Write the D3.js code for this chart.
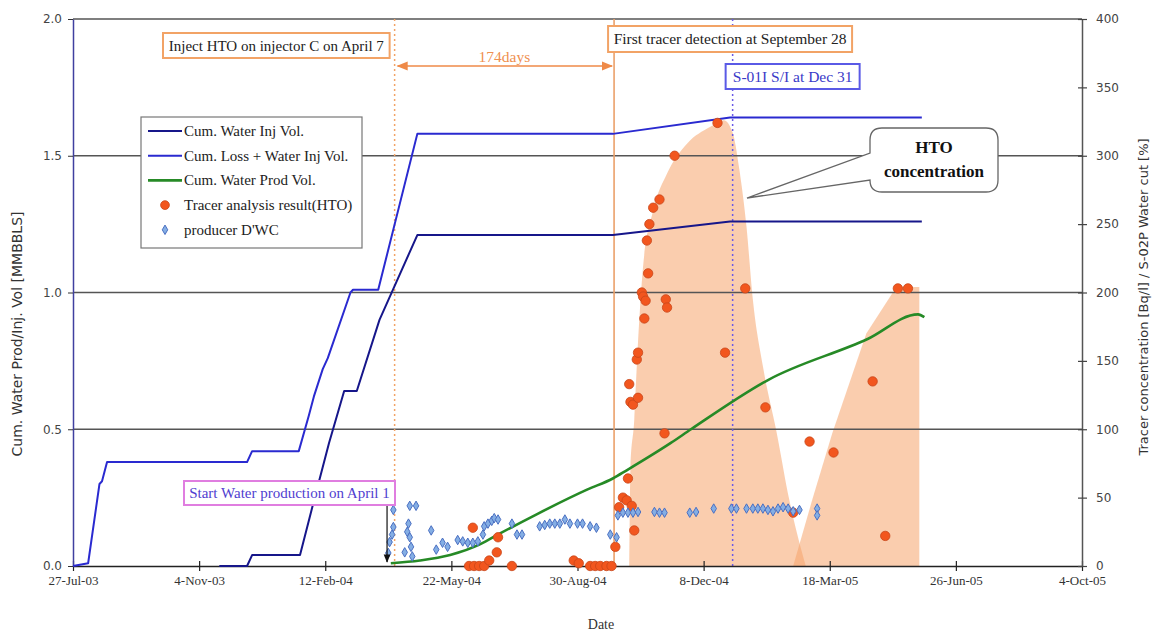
<!DOCTYPE html>
<html>
<head>
<meta charset="utf-8">
<script src="https://cdn.jsdelivr.net/npm/d3@7"></script>
<style>
  body { margin: 0; background: #fff; }
  svg { display: block; }
</style>
</head>
<body>
<svg id="chart" width="1157" height="635"></svg>
<script>
// ---- data ----
const xTicks = ["2003-07-27", "2003-11-04", "2004-02-12", "2004-05-22", "2004-08-30",
                "2004-12-08", "2005-03-18", "2005-06-26", "2005-10-04"];
const leftTicks = [0, 0.5, 1.0, 1.5, 2.0];
const rightTicks = [0, 50, 100, 150, 200, 250, 300, 350, 400];

// Cum. Water Inj Vol. [MMBBLS]
const cumInj = [
  ["2003-11-20", 0], ["2003-12-12", 0.0], ["2003-12-16", 0.04], ["2004-01-23", 0.04],
  ["2004-02-02", 0.22], ["2004-02-15", 0.45], ["2004-02-27", 0.64], ["2004-03-08", 0.64],
  ["2004-03-26", 0.9], ["2004-04-25", 1.21], ["2004-09-27", 1.21], ["2004-12-29", 1.26],
  ["2005-05-30", 1.26]
];
// Cum. Loss + Water Inj Vol. [MMBBLS]
const cumLossInj = [
  ["2003-07-27", 0], ["2003-08-08", 0.01], ["2003-08-17", 0.30], ["2003-08-19", 0.31],
  ["2003-08-23", 0.38], ["2003-12-12", 0.38], ["2003-12-16", 0.42], ["2004-01-22", 0.42],
  ["2004-01-30", 0.55], ["2004-02-03", 0.62], ["2004-02-10", 0.72], ["2004-02-14", 0.76],
  ["2004-03-03", 1.0], ["2004-03-05", 1.01], ["2004-03-25", 1.01], ["2004-04-25", 1.58],
  ["2004-09-27", 1.58], ["2004-12-29", 1.64], ["2005-05-30", 1.64]
];
// Cum. Water Prod Vol. [MMBBLS]
const cumProd = [
  ["2004-04-04", 0.01], ["2004-04-27", 0.02], ["2004-05-21", 0.04], ["2004-06-14", 0.08],
  ["2004-06-30", 0.12], ["2004-07-29", 0.19], ["2004-09-07", 0.28], ["2004-09-27", 0.32],
  ["2004-10-08", 0.35], ["2004-11-12", 0.45], ["2004-11-28", 0.50], ["2005-01-28", 0.68],
  ["2005-04-17", 0.83], ["2005-05-27", 0.92], ["2005-06-01", 0.91]
];
// Tracer analysis result (HTO) [Bq/l]
const tracerHTO = [
  ["2004-06-05", 0], ["2004-06-09", 0], ["2004-06-13", 0], ["2004-06-17", 0], ["2004-06-21", 4],
  ["2004-06-27", 10], ["2004-06-08", 28], ["2004-06-28", 21], ["2004-07-09", 0],
  ["2004-08-27", 4], ["2004-08-31", 2], ["2004-09-09", 0], ["2004-09-13", 0], ["2004-09-17", 0],
  ["2004-09-22", 0], ["2004-09-26", 0], ["2004-09-29", 14], ["2004-10-02", 43], ["2004-10-05", 50],
  ["2004-10-08", 48], ["2004-10-12", 44], ["2004-10-14", 26], ["2004-10-09", 64], ["2004-10-11", 120],
  ["2004-10-13", 118], ["2004-10-17", 123], ["2004-10-10", 133], ["2004-10-16", 151], ["2004-10-17", 156],
  ["2004-10-22", 181], ["2004-10-20", 200], ["2004-10-21", 197], ["2004-10-23", 194], ["2004-10-25", 214],
  ["2004-10-24", 238], ["2004-10-26", 250], ["2004-10-29", 262], ["2004-11-03", 268], ["2004-11-15", 300],
  ["2004-12-19", 324], ["2004-11-08", 195], ["2004-11-09", 189], ["2004-11-07", 97], ["2004-12-25", 156],
  ["2005-01-10", 203], ["2005-01-26", 116], ["2005-03-02", 91], ["2005-03-21", 83], ["2005-02-17", 39],
  ["2005-04-21", 135], ["2005-05-11", 203], ["2005-05-19", 203], ["2005-05-01", 22]
];
// producer D'WC [%]
const producerWC = [
  ["2004-04-02", 9.5], ["2004-04-03", 17.5], ["2004-04-05", 23], ["2004-04-06", 28.5], ["2004-04-06", 41],
  ["2004-04-15", 10], ["2004-04-17", 25], ["2004-04-18", 31], ["2004-04-19", 44], ["2004-04-19", 21],
  ["2004-04-20", 14], ["2004-04-21", 7], ["2004-04-24", 44], ["2004-05-06", 26], ["2004-05-10", 12],
  ["2004-05-15", 17], ["2004-05-19", 14], ["2004-05-27", 19], ["2004-05-31", 18], ["2004-06-04", 17],
  ["2004-06-08", 17], ["2004-06-12", 18], ["2004-06-16", 23], ["2004-06-17", 29], ["2004-06-20", 31],
  ["2004-06-23", 33], ["2004-06-25", 35], ["2004-06-28", 34], ["2004-07-09", 31], ["2004-07-13", 23],
  ["2004-07-17", 23], ["2004-07-31", 29], ["2004-08-04", 30], ["2004-08-08", 31], ["2004-08-12", 31],
  ["2004-08-16", 31], ["2004-08-20", 34], ["2004-08-24", 31], ["2004-08-30", 31], ["2004-09-03", 31],
  ["2004-09-09", 29], ["2004-09-14", 28], ["2004-09-25", 23], ["2004-09-30", 21], ["2004-10-01", 37],
  ["2004-10-05", 39], ["2004-10-09", 39], ["2004-10-13", 39], ["2004-10-17", 39.5], ["2004-10-30", 39.5],
  ["2004-11-03", 39], ["2004-11-07", 39], ["2004-11-27", 39], ["2004-12-02", 39.5], ["2004-12-16", 42],
  ["2004-12-30", 42], ["2005-01-03", 42], ["2005-01-11", 42], ["2005-01-16", 42], ["2005-01-20", 42],
  ["2005-01-24", 42], ["2005-01-28", 41], ["2005-02-01", 40], ["2005-02-05", 42], ["2005-02-09", 43],
  ["2005-02-13", 42], ["2005-02-17", 40], ["2005-02-22", 41], ["2005-03-08", 42], ["2005-03-08", 37]
];
// HTO concentration envelope (two humps) [Bq/l]
const htoHump1 = [
  ["2004-10-10", 0], ["2004-10-11", 72], ["2004-10-14", 107], ["2004-10-16", 146], ["2004-10-21", 219],
  ["2004-10-29", 260], ["2004-11-09", 287], ["2004-11-25", 309], ["2004-12-13", 321], ["2004-12-24", 326],
  ["2004-12-31", 317], ["2005-01-05", 292], ["2005-01-11", 248], ["2005-01-16", 195], ["2005-01-24", 146],
  ["2005-02-04", 97], ["2005-02-14", 48], ["2005-02-27", 0]
];
const htoHump2 = [
  ["2005-02-17", 0], ["2005-03-04", 48], ["2005-03-20", 97], ["2005-04-16", 170], ["2005-05-07", 200],
  ["2005-05-10", 204], ["2005-05-28", 204]
];
// event dates
const injectDate = "2004-04-07";
const startProdDate = "2004-04-01";
const firstDetectDate = "2004-09-28";
const shutInDate = "2004-12-31";

// ---- setup ----
const parse = d3.timeParse("%Y-%m-%d");
const svg = d3.select("#chart");
const plotLeft = 73, plotRight = 1082, plotTop = 19, plotBottom = 566;

const x = d3.scaleTime().domain([parse(xTicks[0]), parse(xTicks[xTicks.length - 1])]).range([plotLeft, plotRight]);
const yL = d3.scaleLinear().domain([0, 2]).range([plotBottom, plotTop]);
const yR = d3.scaleLinear().domain([0, 400]).range([plotBottom, plotTop]);

const serif = "'Liberation Serif', 'DejaVu Serif', serif";
const sans = "'DejaVu Sans', Verdana, sans-serif";

// HTO envelope
const hump = (data, curve) => d3.area()
  .x(d => x(parse(d[0])))
  .y0(yR(0))
  .y1(d => yR(d[1]))
  .curve(curve)(data);

svg.append("path").attr("d", hump(htoHump1, d3.curveMonotoneX))
  .attr("fill", "#f5a46c").attr("fill-opacity", 0.55);
svg.append("path").attr("d", hump(htoHump2, d3.curveLinear))
  .attr("fill", "#f5a46c").attr("fill-opacity", 0.55);

// gridlines
svg.append("g").selectAll("line")
  .data(leftTicks.filter(d => d > 0))
  .join("line")
  .attr("x1", plotLeft).attr("x2", plotRight)
  .attr("y1", d => yL(d)).attr("y2", d => yL(d))
  .attr("stroke", "#555").attr("stroke-width", 1.3);

// event lines
svg.append("line")
  .attr("x1", x(parse(injectDate))).attr("x2", x(parse(injectDate)))
  .attr("y1", plotTop).attr("y2", plotBottom)
  .attr("stroke", "#f2a366").attr("stroke-width", 1.5).attr("stroke-dasharray", "2,3");
svg.append("line")
  .attr("x1", x(parse(firstDetectDate))).attr("x2", x(parse(firstDetectDate)))
  .attr("y1", plotTop).attr("y2", plotBottom)
  .attr("stroke", "#eba06a").attr("stroke-width", 1.6);
svg.append("line")
  .attr("x1", x(parse(shutInDate))).attr("x2", x(parse(shutInDate)))
  .attr("y1", plotTop).attr("y2", plotBottom)
  .attr("stroke", "#6a5ae8").attr("stroke-width", 1.5).attr("stroke-dasharray", "2,3");

// axes
const fmt = d3.timeFormat("%-d-%b-%y");
const xAxis = svg.append("g")
  .attr("transform", `translate(0,${plotBottom})`)
  .call(d3.axisBottom(x).tickValues(xTicks.map(parse)).tickFormat(fmt).tickSizeInner(0).tickSizeOuter(0).tickPadding(10));
xAxis.select(".domain").attr("stroke", "#222").attr("stroke-width", 1.5);
xAxis.selectAll(".tick line").attr("y1", -5).attr("y2", 5).attr("stroke", "#222").attr("stroke-width", 1.2);
xAxis.selectAll(".tick text").attr("font-family", serif).attr("font-size", 13).attr("fill", "#333");

const yAxisL = svg.append("g")
  .attr("transform", `translate(${plotLeft},0)`)
  .call(d3.axisLeft(yL).tickValues(leftTicks).tickFormat(d3.format(".1f")).tickSizeInner(5).tickSizeOuter(0).tickPadding(6));
yAxisL.select(".domain").attr("stroke", "#4040a0").attr("stroke-width", 1.5);
yAxisL.selectAll(".tick line").attr("stroke", "#333");
yAxisL.selectAll(".tick text").attr("font-family", sans).attr("font-size", 12).attr("fill", "#444");

const yAxisR = svg.append("g")
  .attr("transform", `translate(${plotRight},0)`)
  .call(d3.axisRight(yR).tickValues(rightTicks).tickSizeInner(0).tickSizeOuter(0).tickPadding(14));
yAxisR.select(".domain").attr("stroke", "#555").attr("stroke-width", 1.5);
yAxisR.selectAll(".tick line").attr("x1", -4).attr("x2", 5).attr("stroke", "#444").attr("stroke-width", 1.2);
yAxisR.selectAll(".tick text").attr("font-family", sans).attr("font-size", 12).attr("fill", "#444");

// axis titles
svg.append("text")
  .attr("transform", "translate(22,334) rotate(-90)")
  .attr("text-anchor", "middle")
  .attr("font-family", sans).attr("font-size", 14).attr("fill", "#333")
  .text("Cum. Water Prod/Inj. Vol [MMBBLS]");
svg.append("text")
  .attr("transform", "translate(1148,297) rotate(-90)")
  .attr("text-anchor", "middle")
  .attr("font-family", sans).attr("font-size", 13).attr("fill", "#333")
  .text("Tracer concentration [Bq/l] / S-02P Water cut [%]");
svg.append("text")
  .attr("x", 601).attr("y", 629)
  .attr("text-anchor", "middle")
  .attr("font-family", serif).attr("font-size", 14).attr("fill", "#333")
  .text("Date");

// lines
const line = d3.line().x(d => x(parse(d[0]))).y(d => yL(d[1]));
svg.append("path").attr("d", line(cumLossInj))
  .attr("fill", "none").attr("stroke", "#2a2ad0").attr("stroke-width", 2).attr("stroke-linejoin", "round");
svg.append("path").attr("d", line(cumInj))
  .attr("fill", "none").attr("stroke", "#16168a").attr("stroke-width", 2).attr("stroke-linejoin", "round");
svg.append("path").attr("d", line.curve(d3.curveMonotoneX)(cumProd))
  .attr("fill", "none").attr("stroke", "#268a26").attr("stroke-width", 2.6);

// tracer dots
svg.append("g").selectAll("circle")
  .data(tracerHTO)
  .join("circle")
  .attr("cx", d => x(parse(d[0])))
  .attr("cy", d => yR(d[1]))
  .attr("r", 4.7)
  .attr("fill", "#f2561e").attr("stroke", "#c8461a").attr("stroke-width", 0.8);

// water cut diamonds
const diamond = d3.symbol().type(d3.symbolDiamond).size(26);
svg.append("g").selectAll("path")
  .data(producerWC)
  .join("path")
  .attr("d", diamond)
  .attr("transform", d => `translate(${x(parse(d[0]))},${yR(d[1])})`)
  .attr("fill", "#84aee4").attr("stroke", "#4a6fc2").attr("stroke-width", 1);

// legend
const lg = svg.append("g").attr("transform", "translate(141,117)");
lg.append("rect").attr("width", 221).attr("height", 131)
  .attr("fill", "#fff").attr("stroke", "#777").attr("stroke-width", 1.2);
const legendItems = [
  { label: "Cum. Water Inj Vol.", type: "line", color: "#16168a" },
  { label: "Cum. Loss + Water Inj Vol.", type: "line", color: "#2a2ad0" },
  { label: "Cum. Water Prod Vol.", type: "line", color: "#268a26" },
  { label: "Tracer analysis result(HTO)", type: "dot", color: "#f2561e" },
  { label: "producer D'WC", type: "diamond", color: "#84aee4" }
];
legendItems.forEach((it, i) => {
  const yy = 14 + i * 24.7;
  if (it.type === "line") {
    lg.append("line").attr("x1", 7).attr("x2", 41).attr("y1", yy).attr("y2", yy)
      .attr("stroke", it.color).attr("stroke-width", it.color === "#268a26" ? 2.6 : 2);
  } else if (it.type === "dot") {
    lg.append("circle").attr("cx", 24).attr("cy", yy).attr("r", 4.4)
      .attr("fill", it.color).attr("stroke", "#c8461a").attr("stroke-width", 0.8);
  } else {
    lg.append("path").attr("d", diamond).attr("transform", `translate(24,${yy})`)
      .attr("fill", it.color).attr("stroke", "#4a6fc2");
  }
  lg.append("text").attr("x", 43).attr("y", yy + 5)
    .attr("font-family", serif).attr("font-size", 15).attr("fill", "#222")
    .text(it.label);
});

// annotation boxes
function note(x0, y0, w, h, txt, border, color, size) {
  svg.append("rect").attr("x", x0).attr("y", y0).attr("width", w).attr("height", h)
    .attr("fill", "#fff").attr("stroke", border).attr("stroke-width", 2);
  svg.append("text").attr("x", x0 + w / 2).attr("y", y0 + h / 2 + 5)
    .attr("text-anchor", "middle")
    .attr("font-family", serif).attr("font-size", size).attr("fill", color)
    .text(txt);
}
const xInj = x(parse(injectDate)), xDet = x(parse(firstDetectDate)), xShut = x(parse(shutInDate));
note(163, 33, xInj - 168, 25, "Inject HTO on injector C on  April 7", "#f2a366", "#222", 15);
note(xDet - 6, 26, 244, 26, "First tracer detection at September 28", "#f2a366", "#222", 15.5);
note(xShut - 7, 64, 134, 25, "S-01I S/I at Dec 31", "#5a5ae6", "#3a3ac8", 15.5);
note(184, 481, 211, 24, "Start Water production on April 1", "#e07ee0", "#5040d0", 15);

// 174 days arrow
const defs = svg.append("defs");
defs.append("marker").attr("id", "arrO").attr("viewBox", "0 0 10 10").attr("refX", 9).attr("refY", 5)
  .attr("markerWidth", 7).attr("markerHeight", 7).attr("orient", "auto-start-reverse")
  .append("path").attr("d", "M0,1 L10,5 L0,9 Z").attr("fill", "#ef8a48");
defs.append("marker").attr("id", "arrK").attr("viewBox", "0 0 10 10").attr("refX", 9).attr("refY", 5)
  .attr("markerWidth", 7).attr("markerHeight", 7).attr("orient", "auto")
  .append("path").attr("d", "M0,1 L10,5 L0,9 Z").attr("fill", "#111");
svg.append("line").attr("x1", xInj + 3).attr("x2", xDet - 2).attr("y1", 66).attr("y2", 66)
  .attr("stroke", "#ef8a48").attr("stroke-width", 1.6)
  .attr("marker-start", "url(#arrO)").attr("marker-end", "url(#arrO)");
svg.append("text").attr("x", (xInj + xDet) / 2).attr("y", 62)
  .attr("text-anchor", "middle").attr("font-family", serif).attr("font-size", 15.5).attr("fill", "#ef9050")
  .text("174days");

// start production arrow
const xStart = x(parse(startProdDate));
svg.append("line").attr("x1", xStart).attr("x2", xStart).attr("y1", 506).attr("y2", 562)
  .attr("stroke", "#111").attr("stroke-width", 1.2).attr("marker-end", "url(#arrK)");

// HTO concentration callout
const tipX = 747, tipY = 198;
svg.append("path")
  .attr("d", `M882,128 H986 Q998,128 998,140 V180 Q998,192 986,192 H882 Q870,192 870,180 L${tipX},${tipY} L870,153 V140 Q870,128 882,128 Z`)
  .attr("fill", "#fff").attr("stroke", "#666").attr("stroke-width", 1.3);
svg.append("text").attr("x", 934).attr("y", 153).attr("text-anchor", "middle")
  .attr("font-family", serif).attr("font-weight", "bold").attr("font-size", 17).attr("fill", "#111")
  .text("HTO");
svg.append("text").attr("x", 934).attr("y", 177).attr("text-anchor", "middle")
  .attr("font-family", serif).attr("font-weight", "bold").attr("font-size", 17).attr("fill", "#111")
  .text("concentration");
</script>
</body>
</html>
